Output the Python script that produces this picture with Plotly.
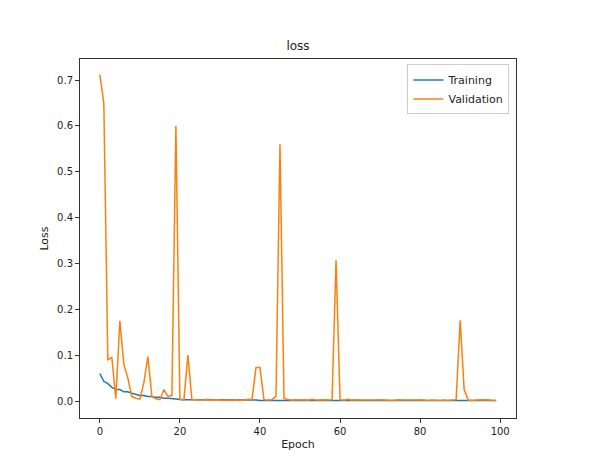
import plotly.graph_objects as go

epochs = list(range(100))

training = [0.060, 0.043, 0.038, 0.030, 0.025, 0.025, 0.020, 0.020, 0.017, 0.015,
            0.012, 0.012, 0.010, 0.010, 0.008, 0.008, 0.006, 0.006, 0.005, 0.004,
            0.004, 0.003, 0.003, 0.003, 0.003, 0.002, 0.002, 0.002, 0.002, 0.002,
            0.002, 0.002, 0.002, 0.003, 0.002, 0.002, 0.002, 0.002, 0.002, 0.002] + [0.001] * 60

validation = [0.712, 0.650, 0.090, 0.095, 0.005, 0.175, 0.080, 0.050, 0.010, 0.006,
              0.004, 0.040, 0.097, 0.010, 0.005, 0.003, 0.025, 0.010, 0.012, 0.600,
              0.003, 0.003, 0.100, 0.003, 0.003, 0.003, 0.002, 0.004, 0.002, 0.003,
              0.002, 0.001, 0.002, 0.001, 0.002, 0.001, 0.002, 0.004, 0.003, 0.073,
              0.073, 0.003, 0.002, 0.003, 0.010, 0.560, 0.005, 0.003, 0.002, 0.003,
              0.002, 0.003, 0.002, 0.004, 0.002, 0.002, 0.003, 0.002, 0.003, 0.307,
              0.003, 0.002, 0.004, 0.002, 0.003, 0.002, 0.002, 0.001, 0.002, 0.002,
              0.003, 0.002, 0.002, 0.001, 0.002, 0.003, 0.002, 0.002, 0.001, 0.002,
              0.003, 0.002, 0.001, 0.002, 0.001, 0.001, 0.002, 0.001, 0.002, 0.003,
              0.176, 0.025, 0.002, 0.001, 0.002, 0.002, 0.003, 0.003, 0.001, 0.001]

fig = go.Figure()
fig.add_trace(go.Scatter(x=epochs, y=training, mode="lines", name="Training",
                         line=dict(color="#1f77b4", width=1.5)))
fig.add_trace(go.Scatter(x=epochs, y=validation, mode="lines", name="Validation",
                         line=dict(color="#ff7f0e", width=1.5)))

axis = dict(showline=True, linecolor="#333333", linewidth=1, mirror=True, showgrid=False,
            zeroline=False, ticks="outside", ticklen=4, tickcolor="#333333",
            tickfont=dict(size=10, color="#222222"))
fig.update_layout(
    width=616, height=457,
    paper_bgcolor="white", plot_bgcolor="white",
    font=dict(family="DejaVu Sans", color="#222222", size=11),
    title=dict(text="loss", x=0.5, xref="paper", xanchor="center",
               y=1 - 38 / 457, yanchor="middle", font=dict(size=12)),
    margin=dict(l=72, r=108, t=51, b=47),
    xaxis=dict(axis, range=[-4.95, 103.95], tickvals=[0, 20, 40, 60, 80, 100],
               title=dict(text="Epoch", font=dict(size=11), standoff=4)),
    yaxis=dict(axis, range=[-0.037, 0.746], tickvals=[0, 0.1, 0.2, 0.3, 0.4, 0.5, 0.6, 0.7],
               tickformat=".1f", title=dict(text="Loss", font=dict(size=11), standoff=6)),
    legend=dict(x=0.985, y=0.985, xanchor="right", yanchor="top",
                bordercolor="#cccccc", borderwidth=1, bgcolor="white",
                font=dict(size=11), tracegroupgap=0, itemwidth=30),
    showlegend=True,
)

fig.write_html("out.html")
